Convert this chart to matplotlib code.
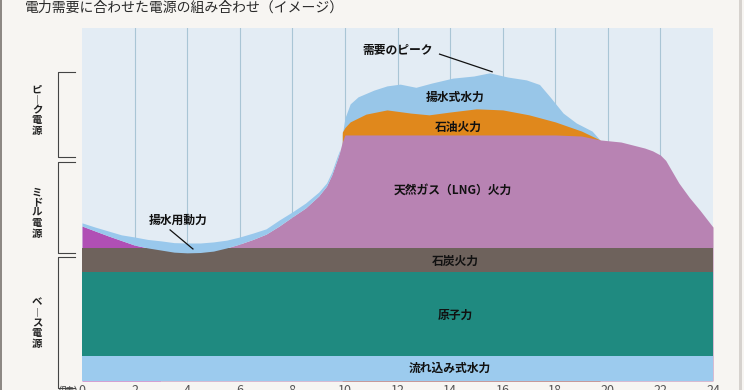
import matplotlib.pyplot as plt
from matplotlib.lines import Line2D
from matplotlib.patches import Rectangle

plt.rcParams['font.family'] = ['Noto Sans CJK JP', 'DejaVu Sans']

# 時刻 (h) と各電源の上端 (相対値)
river = [7.1, 7.1]
nuclear = [23.8, 23.8]
coal = [6.8, 6.8]
base_hours = [0, 24]

lng_hours = [0, 0.5, 1, 1.5, 2, 2.5, 3, 3.5, 4, 4.5, 5, 5.5, 6, 6.5, 7, 7.5,
             8, 8.5, 9, 9.3, 9.5, 9.7, 9.8, 9.9, 10, 12, 14, 16, 18,
             19, 19.7, 20.5, 21.4, 21.7, 22, 22.2, 22.7, 23.1, 23.5, 24]
lng_top = [43.9, 42.5, 41.1, 39.8, 38.5, 37.7, 37.1, 36.5, 36.3, 36.4, 36.8,
           37.7, 38.8, 40.1, 41.6, 43.9, 46.5, 49.0, 52.4, 55.2, 58.4, 62.6,
           64.9, 67.7, 69.7, 69.7, 69.7, 69.7, 69.7,
           69.4, 68.3, 67.7, 66.0, 65.2, 64.0, 62.5, 56.1, 52.0, 48.4, 43.6]

pump_hours = [0, 0.5, 1, 1.5, 2, 2.5, 3, 3.5, 4, 4.5, 5, 5.5, 6, 6.5, 7, 7.5,
              8, 8.5, 9, 9.3, 9.5, 9.7, 9.8]
pump_top = [44.8, 43.6, 42.5, 41.4, 40.8, 40.1, 39.7, 39.2, 39.1, 39.1, 39.4,
            39.9, 40.8, 41.9, 43.1, 45.6, 47.9, 50.4, 53.5, 56.1, 59.2, 63.5,
            65.4]

oil_hours = [9.9, 10.0, 10.2, 10.8, 11.6, 12.5, 13.2, 14, 15, 16, 17, 18, 19,
             19.7]
oil_top = [70.5, 71.8, 73.4, 75.6, 76.8, 75.9, 75.4, 76.2, 77.1, 76.8, 75.4,
           73.4, 70.8, 68.3]

peak_hours = [9.9, 10.0, 10.2, 10.5, 11.1, 11.6, 12.1, 12.7, 13.3, 14.1, 14.9,
              15.5, 16.2, 16.9, 17.4, 17.8, 18.3, 18.8, 19.4, 19.7]
peak_top = [69.7, 74.5, 78.5, 80.5, 82.4, 83.6, 84.1, 83.2, 84.4, 85.8, 86.4,
            87.3, 86.1, 85.3, 84.0, 80.5, 75.9, 73.1, 70.8, 68.3]

xticks = list(range(0, 25, 2))

fig = plt.figure(figsize=(7.44, 3.9), dpi=100, facecolor='#f7f5f2')
ax = fig.add_axes([82 / 744, 1 - 381 / 390, 631 / 744, 353 / 390])
ax.set_facecolor('#e3ecf4')

for h in xticks[1:-1]:
    ax.axvline(h, color='#a9c5d5', lw=0.8, zorder=0)

ax.fill_between(peak_hours, 0, peak_top, color='#98c6e8', lw=0, zorder=1)
ax.fill_between(oil_hours, 0, oil_top, color='#e0881c', lw=0, zorder=2)
ax.fill_between(lng_hours, 0, lng_top, where=[h <= 3 for h in lng_hours],
                color='#b04fb5', lw=0, zorder=3)
ax.fill_between(lng_hours, 0, lng_top, where=[h >= 3 for h in lng_hours],
                color='#b883b3', lw=0, zorder=3)

s1 = river
s2 = [a + b for a, b in zip(s1, nuclear)]
s3 = [a + b for a, b in zip(s2, coal)]
ax.fill_between(base_hours, 0, s3, color='#6e625c', lw=0, zorder=4)
ax.fill_between(base_hours, 0, s2, color='#1f8a80', lw=0, zorder=5)
ax.fill_between(base_hours, 0, s1, color='#9ccbee', lw=0, zorder=6)
ax.fill_between(pump_hours, lng_top[:len(pump_hours)], pump_top,
                color='#99c8ec', lw=0, zorder=5)

ax.set_xlim(0, 24)
ax.set_ylim(0, 100)
ax.set_yticks([])
ax.set_xticks(xticks)
ax.set_xticklabels([str(t) for t in xticks], fontsize=9, color='#555555')
ax.tick_params(axis='x', length=0, pad=2)
for s in ax.spines.values():
    s.set_visible(False)
ax.text(-0.1, -0.013, '(時)', transform=ax.get_xaxis_transform(), ha='right',
        va='top', fontsize=9, color='#555555')

lab = dict(fontsize=8.5, fontweight='bold', color='#111111', ha='center',
           va='center', zorder=10)
ax.text(14.0, 3.7, '流れ込み式水力', **lab)
ax.text(14.2, 18.7, '原子力', **lab)
ax.text(14.2, 34.0, '石炭火力', **lab)
ax.text(14.1, 54.1, '天然ガス（LNG）火力', **lab)
ax.text(14.3, 72.0, '石油火力', **lab)
ax.text(14.2, 80.5, '揚水式水力', **lab)
ax.text(12.0, 93.5, '需要のピーク', **lab)
ax.plot([13.6, 15.6], [92.6, 87.6], color='#111111', lw=0.9, zorder=10)
ax.text(3.65, 45.6, '揚水用動力', **lab)
ax.plot([3.35, 4.22], [42.8, 37.4], color='#111111', lw=0.9, zorder=10)

# タイトル
fig.text(25 / 744, 1 - 8 / 390, '電力需要に合わせた電源の組み合わせ（イメージ）',
         fontsize=10, color='#2a2a2a', va='center', ha='left')

# 左側の括弧
def px(x, y):
    return x / 744, 1 - y / 390

for y0, y1 in [(72, 157), (162, 253), (257, 388)]:
    xs, ys = zip(px(75, y0), px(58, y0), px(58, y1), px(75, y1))
    fig.add_artist(Line2D(xs, ys, color='#444444', lw=0.8))

vlab = dict(fontsize=7.5, fontweight='bold', color='#222222', ha='center',
            va='center', linespacing=1.05)
fig.text(*px(37, 110), '\n'.join('ピ︱ク電源'), **vlab)
fig.text(*px(37, 213), '\n'.join('ミドル電源'), **vlab)
fig.text(*px(37, 323), '\n'.join('ベ︱ス電源'), **vlab)

fig.add_artist(Rectangle((0, 0), 2 / 744, 1, transform=fig.transFigure,
                         color='#8d8884', lw=0))
fig.add_artist(Rectangle((739 / 744, 0), 3 / 744, 1, transform=fig.transFigure,
                         color='#d6d2ce', lw=0))

fig.savefig('out.png', dpi=100, facecolor=fig.get_facecolor())
